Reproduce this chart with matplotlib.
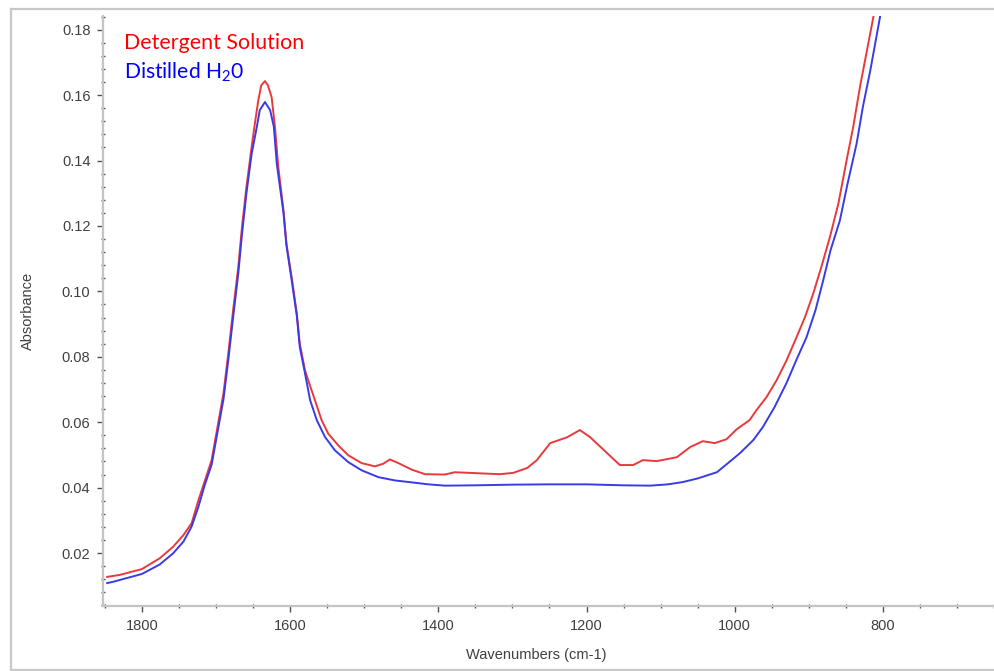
import matplotlib
matplotlib.use("Agg")
import matplotlib.pyplot as plt
from matplotlib.lines import Line2D
from matplotlib.ticker import MultipleLocator, FormatStrFormatter

# ---- data ----
det_wn = [1847, 1830, 1800, 1776, 1758, 1744, 1733, 1724, 1715, 1706, 1690, 1683.5,
          1677, 1670, 1665, 1659, 1652, 1647, 1643, 1639, 1634, 1630, 1625, 1620.5,
          1616, 1609, 1605, 1598, 1591, 1587, 1580, 1575.6, 1566.5, 1557.5, 1548.6, 1535,
          1521.6, 1503.6, 1485.6, 1474.4, 1465.3, 1454, 1436, 1418, 1391, 1378, 1317,
          1299, 1280, 1267, 1249, 1226, 1209, 1195, 1172, 1155, 1137, 1124, 1105,
          1078, 1060, 1043, 1027, 1011, 997.5, 980, 970.5, 957, 943.5, 930, 916.5,
          905, 894, 883, 871.5, 860, 849, 840, 831, 813, 800]
det_abs = [0.0127, 0.0133, 0.0151, 0.0184, 0.0219, 0.0255, 0.0291, 0.0360, 0.0422, 0.0484, 0.0688, 0.0810,
           0.0942, 0.1075, 0.1197, 0.1319, 0.1442, 0.1523, 0.1584, 0.1630, 0.1643, 0.1630, 0.1594, 0.1503,
           0.1380, 0.1248, 0.1146, 0.1044, 0.0932, 0.0840, 0.0759, 0.0728, 0.0667, 0.0606, 0.0565, 0.0529,
           0.0499, 0.0475, 0.0465, 0.0473, 0.0486, 0.0475, 0.0455, 0.0441, 0.0440, 0.0447, 0.0441,
           0.0445, 0.0460, 0.0484, 0.0536, 0.0554, 0.0576, 0.0554, 0.0505, 0.0469, 0.0469, 0.0484, 0.0481,
           0.0493, 0.0524, 0.0542, 0.0536, 0.0548, 0.0578, 0.0606, 0.0637, 0.0677, 0.0728, 0.0789, 0.0860,
           0.0922, 0.0993, 0.1075, 0.1166, 0.1269, 0.1400, 0.1503, 0.1624, 0.1837, 0.2000]

h2o_wn = [1847, 1839, 1800, 1776, 1758, 1744, 1733, 1724, 1715, 1706, 1690, 1683.5,
          1677, 1670, 1665, 1659, 1652, 1645, 1641, 1634, 1627, 1622, 1618, 1609,
          1605, 1598, 1591, 1587, 1580, 1573, 1564, 1553, 1539.6, 1521.6, 1503.6, 1481,
          1458.6, 1436, 1413.6, 1391, 1350, 1300, 1250, 1200, 1150, 1114, 1090, 1070,
          1050, 1024, 993, 975, 962, 946, 930, 917, 903, 891, 880.5, 870.6,
          858, 847.6, 835.5, 827, 817, 804, 795]
h2o_abs = [0.0108, 0.0112, 0.0136, 0.0165, 0.0199, 0.0235, 0.0281, 0.0340, 0.0410, 0.0470, 0.0670, 0.0790,
           0.0920, 0.1055, 0.1175, 0.1300, 0.1420, 0.1503, 0.1554, 0.1579, 0.1554, 0.1503, 0.1390, 0.1240,
           0.1140, 0.1035, 0.0925, 0.0830, 0.0750, 0.0667, 0.0606, 0.0555, 0.0514, 0.0478, 0.0453, 0.0432,
           0.0422, 0.0416, 0.0410, 0.0406, 0.0407, 0.0409, 0.0410, 0.0410, 0.0407, 0.0406, 0.0410, 0.0417,
           0.0428, 0.0447, 0.0505, 0.0545, 0.0585, 0.0647, 0.0720, 0.0789, 0.0860, 0.0942, 0.1034, 0.1126,
           0.1217, 0.1330, 0.1451, 0.1564, 0.1675, 0.1837, 0.1960]

x_ticks = [1800, 1600, 1400, 1200, 1000, 800]
y_ticks = [0.02, 0.04, 0.06, 0.08, 0.10, 0.12, 0.14, 0.16, 0.18]

W, H = 994, 671
fig = plt.figure(figsize=(W / 100, H / 100), dpi=100)
fig.patch.set_facecolor("white")
plt.rcParams["mathtext.default"] = "regular"

ax = fig.add_axes([103 / W, (H - 606) / H, (W - 103) / W, (606 - 16) / H])
ax.plot(det_wn, det_abs, color="#e8393c", lw=1.4, solid_joinstyle="round")
ax.plot(h2o_wn, h2o_abs, color="#3a3ae6", lw=1.4, solid_joinstyle="round")

ax.set_xlim(1852.6, 650)
ax.set_ylim(0.0038, 0.1842)

ax.set_xticks(x_ticks)
ax.set_yticks(y_ticks)
ax.xaxis.set_minor_locator(MultipleLocator(50))
ax.yaxis.set_minor_locator(MultipleLocator(0.004))
ax.yaxis.set_major_formatter(FormatStrFormatter("%.2f"))

for s in ["top", "right"]:
    ax.spines[s].set_visible(False)
for s in ["left", "bottom"]:
    ax.spines[s].set_color("#c4c4c4")
    ax.spines[s].set_linewidth(1.6)

tick_font = dict(family=["Liberation Sans", "DejaVu Sans"], size=10.5)
ax.tick_params(which="major", direction="out", length=4, width=1.0, color="#505050",
               labelcolor="#404040", labelsize=10.5, pad=5)
ax.tick_params(which="minor", direction="inout", length=3, width=1.0, color="#505050")
for lab in ax.get_xticklabels() + ax.get_yticklabels():
    lab.set_family(["Liberation Sans", "DejaVu Sans"])

ax.set_xlabel("Wavenumbers (cm-1)", color="#404040", **tick_font)
ax.set_ylabel("Absorbance", color="#404040", **tick_font)
ax.xaxis.set_label_coords((536.5 - 103) / (W - 103), (606 - 655) / 590)
ax.xaxis.label.set_va("center")
ax.yaxis.set_label_coords((28 - 103) / (W - 103), 0.5)
ax.yaxis.label.set_va("center")

ax.text((124 - 103) / (W - 103), (606 - 49.3) / 590, "Detergent Solution",
        transform=ax.transAxes, color="#ff0000", fontsize=15.4,
        family=["Lato", "DejaVu Sans"], va="baseline", ha="left")
ax.text((124 - 103) / (W - 103), (606 - 78.3) / 590, "Distilled H$_2$0",
        transform=ax.transAxes, color="#0000ff", fontsize=15.2,
        family=["Lato", "DejaVu Sans"], va="baseline", ha="left")

# outer grey frame (left, top, bottom edges)
bc = "#c8c8c8"
fig.add_artist(Line2D([11 / W, 11 / W], [(H - 9) / H, (H - 670) / H], transform=fig.transFigure, color=bc, lw=1.6))
fig.add_artist(Line2D([11 / W, 1.0], [(H - 9) / H, (H - 9) / H], transform=fig.transFigure, color=bc, lw=1.6))
fig.add_artist(Line2D([11 / W, 1.0], [(H - 670) / H, (H - 670) / H], transform=fig.transFigure, color=bc, lw=1.6))

fig.savefig("out.png", dpi=100, facecolor="white")
